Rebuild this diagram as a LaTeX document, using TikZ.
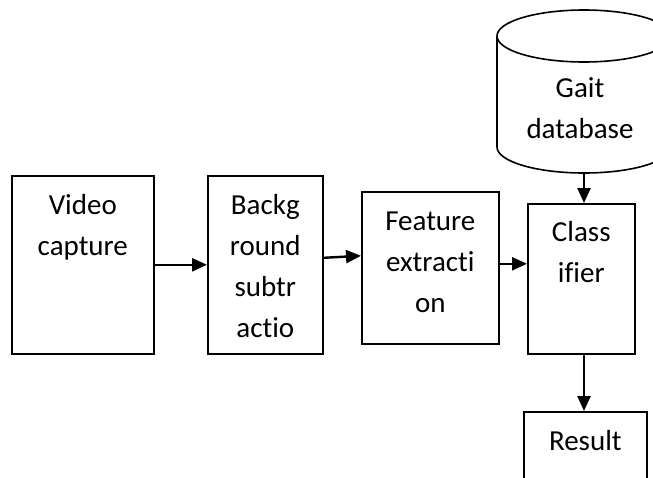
\documentclass[tikz,border=0pt]{standalone}
\usepackage{fontspec}
\setmainfont{Carlito}[Ligatures=NoCommon]
\usetikzlibrary{arrows.meta,calc}

\tikzset{
  stagebox/.style={draw=black, line width=1.6pt, rectangle, inner sep=0pt, anchor=north west},
  stagetext/.style={align=center, inner sep=0pt, anchor=north,
    font=\fontsize{29}{41}\selectfont},
  flow/.style={draw=black, line width=2.4pt,
    -{Triangle[length=15pt,width=13pt]}},
  dbline/.style={draw=black, line width=1.6pt}
}
% strut fixing the height of the first text line
\newcommand{\firstline}{\rule{0pt}{22pt}}

\begin{document}
\begin{tikzpicture}[x=1pt, y=-1pt]
  \useasboundingbox (0,0) rectangle (653,477);
  \fill[white] (0,0) rectangle (653,477);
  \clip (0,0) rectangle (653,477);

  % processing stages
  \node[stagebox, minimum width=142pt, minimum height=178pt] (video) at (11,175) {};
  \node[stagebox, minimum width=115pt, minimum height=178pt] (bg) at (207,175) {};
  \node[stagebox, minimum width=137pt, minimum height=152pt] (feat) at (361,191) {};
  \node[stagebox, minimum width=107pt, minimum height=150pt] (cls) at (527,203) {};
  \node[stagebox, minimum width=123pt, minimum height=120pt] (res) at (523,411) {};

  % stage labels (first baseline 39pt below the top edge)
  \node[stagetext] (videot) at ([yshift=-17pt]video.north) {\firstline Video\\capture};
  \node[stagetext] (bgt) at ([yshift=-17pt]bg.north) {\firstline Backg\\round\\subtr\\actio};
  \node[stagetext] (featt) at ([yshift=-17pt]feat.north) {\firstline Feature\\extracti\\on};
  \node[stagetext] (clst) at ([yshift=-16pt]cls.north) {\firstline Class\\ifier};
  \node[stagetext] (rest) at ([yshift=-17pt]res.north) {\firstline Result};

  % gait database cylinder
  \draw[dbline] (584,36) ellipse [x radius=87, y radius=26];
  \draw[dbline] (497,36) -- (497,147) arc[start angle=180, end angle=0, x radius=87, y radius=26] -- (671,36);
  \coordinate (dbbot) at (584,173);
  \node[stagetext] (dbt) at (580,75) {\firstline Gait\\database};

  % data flow
  \draw[flow] (video.east) -- (bg.west);
  \draw[flow] ([yshift=7pt]bg.east) -- ([yshift=12pt]feat.west);
  \draw[flow] ([yshift=4pt]feat.east) -- ([yshift=4pt]feat.east -| cls.west);
  \draw[flow] (dbbot) -- (dbbot |- cls.north);
  \draw[flow] (dbbot |- cls.south) -- (dbbot |- res.north);
\end{tikzpicture}
\end{document}
